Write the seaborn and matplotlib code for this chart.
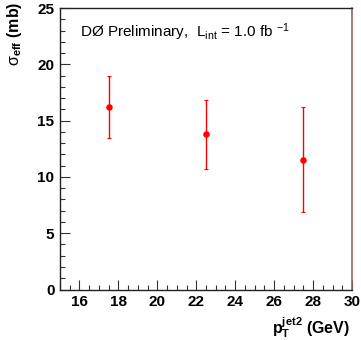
import matplotlib
matplotlib.use("Agg")
import matplotlib.pyplot as plt
import seaborn as sns
import pandas as pd
import numpy as np
from matplotlib.ticker import MultipleLocator

pt_jet2 = [17.5, 22.5, 27.5]
sigma_eff = [16.2, 13.8, 11.5]
err_up = [2.75, 3.05, 4.7]
err_down = [2.75, 3.1, 4.65]

df = pd.DataFrame({"pt": pt_jet2, "sigma": sigma_eff})

sns.set_style("white")
plt.rcParams['font.family'] = ['Liberation Sans', 'DejaVu Sans']
plt.rcParams['mathtext.fontset'] = 'custom'
plt.rcParams['mathtext.rm'] = 'Liberation Sans'
plt.rcParams['mathtext.bf'] = 'Liberation Sans:bold'
plt.rcParams['mathtext.it'] = 'Liberation Sans:italic'
plt.rcParams['text.color'] = 'black'
plt.rcParams['xtick.color'] = 'black'
plt.rcParams['ytick.color'] = 'black'

fig = plt.figure(figsize=(3.61, 3.40), dpi=100)
ax = fig.add_axes([60/361, 1-289.5/340, 292/361, 281.5/340])

ax.errorbar(df["pt"], df["sigma"], yerr=[err_down, err_up], fmt='none',
            ecolor='red', elinewidth=1.0, capsize=1.5, capthick=0.8, zorder=2)
sns.scatterplot(data=df, x="pt", y="sigma", ax=ax, color='red', s=22,
                edgecolor='red', linewidth=0, zorder=3)

ax.set_xlim(15, 30)
ax.set_ylim(0, 25)
ax.xaxis.set_major_locator(MultipleLocator(2))
ax.xaxis.set_minor_locator(MultipleLocator(0.5))
ax.yaxis.set_major_locator(MultipleLocator(5))
ax.yaxis.set_minor_locator(MultipleLocator(1))
ax.tick_params(which='both', direction='in', top=False, right=False,
               bottom=True, left=True, color='#333333', width=0.8)
ax.tick_params(which='major', length=7, labelsize=11, pad=4)
ax.tick_params(which='minor', length=3.5)
for lab in ax.get_xticklabels() + ax.get_yticklabels():
    lab.set_fontweight('bold')

for s in ['left', 'bottom', 'top']:
    ax.spines[s].set_color('#222222')
    ax.spines[s].set_linewidth(1.0)
ax.spines['right'].set_color('#a0605a')
ax.spines['right'].set_linewidth(1.2)

ax.set_xlabel("")
ax.set_ylabel("")
fig.text(350/361, 1-333/340, r"$\mathbf{p_{T}^{jet2}}$ (GeV)", ha='right', va='baseline',
         fontsize=11.5, fontweight='bold')
fig.text(15/361, 1-2/340, r"$\mathrm{\sigma}_{\mathbf{eff}}$ (mb)", ha='center', va='top',
         rotation=90, fontsize=11.5, fontweight='bold')
ax.text((80-60)/292, 1-(32-8)/281.5,
        r"DØ Preliminary,  L$_{\mathrm{int}}$ = 1.0 fb $^{-1}$",
        transform=ax.transAxes, ha='left', va='center', fontsize=11)

fig.savefig("out.png", dpi=100)
